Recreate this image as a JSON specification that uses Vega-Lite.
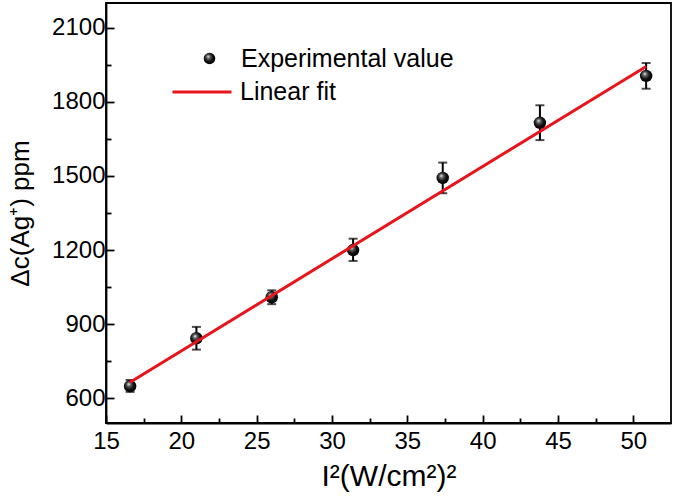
{
  "$schema": "https://vega.github.io/schema/vega-lite/v6.json",
  "autosize": "none",
  "width": 565,
  "height": 420,
  "padding": {"left": 106, "top": 3, "right": 4, "bottom": 80},
  "background": "white",
  "config": {
    "font": "Liberation Sans",
    "view": {"stroke": "black", "strokeWidth": 1.8},
    "axis": {
      "domainColor": "black", "domainWidth": 1.8,
      "tickColor": "black", "tickWidth": 1.8,
      "labelColor": "black", "labelFontSize": 24, "labelFont": "Liberation Sans",
      "titleColor": "black", "titleFontSize": 28, "titleFont": "Liberation Sans", "titleFontWeight": "normal",
      "grid": false
    }
  },
  "datasets": {
    "measured": [
      {"I2": 16.6, "dc": 649, "lo": 626, "hi": 674, "series": "Experimental value"},
      {"I2": 21.0, "dc": 843, "lo": 797, "hi": 889, "series": "Experimental value"},
      {"I2": 26.0, "dc": 1009, "lo": 981, "hi": 1037, "series": "Experimental value"},
      {"I2": 31.4, "dc": 1200, "lo": 1156, "hi": 1246, "series": "Experimental value"},
      {"I2": 37.35, "dc": 1492, "lo": 1430, "hi": 1554, "series": "Experimental value"},
      {"I2": 43.8, "dc": 1715, "lo": 1645, "hi": 1786, "series": "Experimental value"},
      {"I2": 50.85, "dc": 1905, "lo": 1853, "hi": 1957, "series": "Experimental value"}
    ],
    "fit": [
      {"I2": 16.6, "dc": 665, "series": "Linear fit"},
      {"I2": 50.85, "dc": 1943, "series": "Linear fit"}
    ]
  },
  "layer": [
    {
      "data": {"name": "measured"},
      "mark": {"type": "errorbar", "ticks": {"size": 9, "thickness": 2, "color": "black"}, "rule": {"strokeWidth": 2, "color": "black"}},
      "encoding": {
        "x": {
          "field": "I2", "type": "quantitative",
          "scale": {"domain": [15, 52.5], "nice": false, "zero": false},
          "axis": {
            "title": "I²(W/cm²)²",
            "labelFontSize": 24, "titleFontSize": 30, "labelFlush": false,
            "values": [15, 17.5, 20, 22.5, 25, 27.5, 30, 32.5, 35, 37.5, 40, 42.5, 45, 47.5, 50],
            "labelExpr": "datum.value % 5 === 0 ? datum.label : ''",
            "tickSize": {"condition": {"test": "datum.value % 5 === 0", "value": -8}, "value": -5},
            "labelPadding": 14, "titlePadding": 8
          }
        },
        "y": {
          "field": "lo", "type": "quantitative",
          "scale": {"domain": [500, 2200], "nice": false, "zero": false},
          "axis": {
            "title": "Δc(Ag⁺) ppm",
            "labelFontSize": 24, "titleFontSize": 26,
            "values": [600, 750, 900, 1050, 1200, 1350, 1500, 1650, 1800, 1950, 2100],
            "labelExpr": "datum.value % 300 === 0 ? datum.label : ''",
            "format": "d",
            "tickSize": {"condition": {"test": "datum.value % 300 === 0", "value": -8}, "value": -5},
            "labelPadding": 9, "titlePadding": 18
          }
        },
        "y2": {"field": "hi"}
      }
    },
    {
      "data": {"name": "measured"},
      "mark": {
        "type": "point", "filled": true, "size": 155, "opacity": 1, "strokeWidth": 0,
        "color": {"gradient": "radial", "x1": 0.38, "y1": 0.32, "r1": 0, "x2": 0.45, "y2": 0.45, "r2": 0.6,
          "stops": [{"offset": 0, "color": "#ffffff"}, {"offset": 0.25, "color": "#666666"}, {"offset": 0.6, "color": "#111111"}, {"offset": 1, "color": "#000000"}]}
      },
      "encoding": {
        "x": {"field": "I2", "type": "quantitative"},
        "y": {"field": "dc", "type": "quantitative"},
        "shape": {
          "field": "series", "type": "nominal",
          "scale": {"domain": ["Experimental value"], "range": ["circle"]},
          "legend": {
            "title": null, "orient": "none", "legendX": 91, "legendY": 43,
            "labelFontSize": 25, "labelFont": "Liberation Sans", "labelColor": "black", "labelLimit": 400,
            "symbolSize": 133, "labelOffset": 19
          }
        }
      }
    },
    {
      "data": {"name": "fit"},
      "mark": {"type": "line", "strokeWidth": 3},
      "encoding": {
        "x": {"field": "I2", "type": "quantitative"},
        "y": {"field": "dc", "type": "quantitative"},
        "color": {
          "field": "series", "type": "nominal",
          "scale": {"domain": ["Linear fit"], "range": ["#e8141b"]},
          "legend": {
            "title": null, "orient": "none", "legendX": 65, "legendY": 58,
            "labelFontSize": 25, "labelFont": "Liberation Sans", "labelColor": "black", "labelLimit": 400,
            "symbolType": "stroke", "symbolSize": 3481, "symbolStrokeWidth": 3, "labelOffset": 7
          }
        }
      }
    }
  ]
}
